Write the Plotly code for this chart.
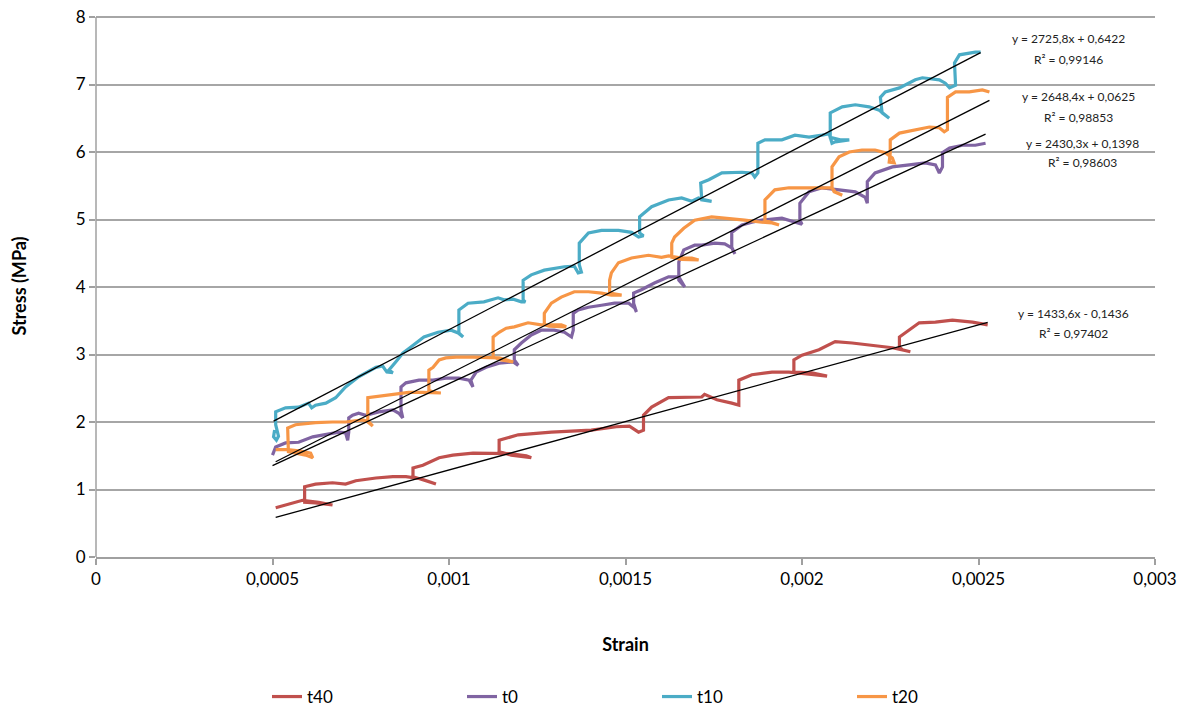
import plotly.graph_objects as go

# ---------------- data (strain in micro-strain, stress in MPa) ----------------
t40_strain_ue = [509, 537, 585, 631, 670, 622, 591, 591, 622, 670, 707, 736, 793, 841, 878, 920, 963, 935, 898, 898,
                 926, 972, 1011, 1068, 1125, 1176, 1219, 1233, 1176, 1142, 1142, 1196, 1290, 1403, 1474, 1511, 1537,
                 1551, 1551, 1574, 1622, 1668, 1716, 1724, 1759, 1801, 1821, 1821, 1858, 1915, 1963, 2020, 2071, 2028,
                 1977, 1977, 2000, 2048, 2094, 2142, 2199, 2256, 2307, 2284, 2276, 2276, 2332, 2378, 2426, 2483, 2526]
t40_stress = [0.73, 0.77, 0.84, 0.81, 0.77, 0.80, 0.81, 1.04, 1.08, 1.10, 1.08, 1.13, 1.17, 1.19, 1.19, 1.16, 1.08, 1.13,
              1.19, 1.32, 1.36, 1.47, 1.51, 1.54, 1.54, 1.53, 1.50, 1.47, 1.51, 1.56, 1.73, 1.81, 1.85, 1.88, 1.93, 1.94,
              1.85, 1.88, 2.10, 2.22, 2.36, 2.36, 2.37, 2.41, 2.33, 2.28, 2.25, 2.62, 2.70, 2.74, 2.74, 2.71, 2.68, 2.73,
              2.74, 2.92, 2.99, 3.07, 3.19, 3.17, 3.14, 3.10, 3.04, 3.07, 3.11, 3.26, 3.47, 3.48, 3.51, 3.48, 3.44]

t0_strain_ue = [500, 509, 537, 574, 614, 651, 688, 707, 713, 716, 716, 727, 744, 764, 801, 841, 858, 869, 864, 864,
                878, 915, 955, 991, 1028, 1057, 1068, 1062, 1077, 1105, 1142, 1182, 1196, 1185, 1185, 1205, 1233, 1261,
                1298, 1327, 1347, 1352, 1352, 1366, 1395, 1432, 1469, 1509, 1526, 1531, 1523, 1523, 1545, 1582, 1622,
                1651, 1659, 1668, 1651, 1651, 1665, 1696, 1716, 1753, 1781, 1801, 1810, 1801, 1801, 1830, 1858, 1886,
                1943, 1972, 2000, 1994, 1994, 2020, 2057, 2105, 2151, 2179, 2185, 2185, 2185, 2207, 2256, 2304, 2349,
                2378, 2389, 2398, 2398, 2418, 2455, 2491, 2520]
t0_stress = [1.51, 1.63, 1.69, 1.70, 1.78, 1.81, 1.85, 1.84, 1.73, 1.85, 2.06, 2.10, 2.13, 2.10, 2.15, 2.18, 2.13, 2.06,
             2.18, 2.52, 2.58, 2.62, 2.62, 2.65, 2.65, 2.62, 2.52, 2.62, 2.74, 2.81, 2.87, 2.89, 2.84, 2.92, 3.07, 3.17,
             3.29, 3.36, 3.36, 3.33, 3.26, 3.36, 3.61, 3.66, 3.70, 3.73, 3.76, 3.76, 3.69, 3.63, 3.76, 3.91, 3.96, 4.06,
             4.15, 4.15, 4.07, 4.00, 4.10, 4.37, 4.55, 4.62, 4.62, 4.65, 4.64, 4.58, 4.49, 4.59, 4.81, 4.92, 4.96, 4.99,
             5.02, 4.98, 4.93, 4.99, 5.24, 5.41, 5.47, 5.44, 5.41, 5.33, 5.24, 5.41, 5.56, 5.69, 5.78, 5.81, 5.84, 5.81,
             5.69, 5.78, 5.99, 6.06, 6.10, 6.10, 6.13]

t10_strain_ue = [506, 503, 511, 517, 509, 509, 537, 574, 602, 611, 622, 651, 679, 707, 744, 793, 812, 824, 841, 830,
                 849, 869, 892, 929, 969, 1006, 1026, 1040, 1028, 1028, 1054, 1099, 1139, 1156, 1182, 1205, 1216, 1210,
                 1210, 1233, 1270, 1327, 1355, 1366, 1375, 1369, 1369, 1395, 1432, 1480, 1517, 1537, 1551, 1540, 1540,
                 1574, 1622, 1659, 1688, 1707, 1724, 1744, 1716, 1713, 1736, 1773, 1830, 1858, 1866, 1875, 1875, 1895,
                 1943, 1980, 2020, 2057, 2077, 2085, 2094, 2134, 2108, 2080, 2080, 2114, 2151, 2190, 2219, 2247, 2227,
                 2222, 2236, 2276, 2321, 2341, 2389, 2406, 2418, 2435, 2432, 2446, 2491, 2506]
t10_stress = [1.88, 1.78, 1.73, 1.79, 1.96, 2.15, 2.21, 2.22, 2.28, 2.21, 2.25, 2.28, 2.36, 2.52, 2.67, 2.81, 2.83, 2.74,
              2.73, 2.77, 2.89, 3.02, 3.11, 3.26, 3.33, 3.36, 3.32, 3.26, 3.32, 3.66, 3.76, 3.78, 3.84, 3.81, 3.82, 3.78,
              3.78, 3.81, 4.10, 4.18, 4.25, 4.30, 4.31, 4.21, 4.22, 4.33, 4.65, 4.80, 4.84, 4.84, 4.81, 4.74, 4.76, 4.80,
              5.04, 5.19, 5.29, 5.32, 5.27, 5.32, 5.29, 5.27, 5.29, 5.54, 5.59, 5.69, 5.70, 5.69, 5.63, 5.69, 6.13, 6.18,
              6.18, 6.25, 6.22, 6.25, 6.27, 6.13, 6.15, 6.18, 6.18, 6.22, 6.58, 6.67, 6.70, 6.67, 6.62, 6.50, 6.58, 6.81,
              6.89, 6.95, 7.07, 7.10, 7.07, 7.02, 6.95, 6.99, 7.32, 7.44, 7.48, 7.48]

t20_strain_ue = [509, 543, 580, 608, 614, 594, 545, 543, 543, 565, 622, 670, 707, 756, 773, 784, 770, 770, 784, 821,
                 858, 886, 926, 963, 977, 955, 943, 943, 955, 972, 991, 1020, 1068, 1105, 1142, 1182, 1148, 1125, 1125,
                 1142, 1162, 1185, 1224, 1261, 1290, 1318, 1332, 1284, 1270, 1270, 1290, 1318, 1355, 1395, 1432, 1460,
                 1489, 1466, 1455, 1455, 1460, 1480, 1517, 1565, 1602, 1622, 1659, 1688, 1707, 1659, 1631, 1631, 1639,
                 1665, 1696, 1744, 1793, 1838, 1886, 1915, 1935, 1909, 1895, 1895, 1923, 1963, 2000, 2048, 2085, 2094,
                 2114, 2091, 2085, 2085, 2105, 2134, 2170, 2207, 2236, 2256, 2261, 2247, 2250, 2250, 2276, 2321, 2361,
                 2389, 2403, 2412, 2412, 2412, 2435, 2474, 2511, 2531]
t20_stress = [1.59, 1.59, 1.57, 1.54, 1.47, 1.51, 1.56, 1.73, 1.91, 1.96, 1.99, 2.00, 2.00, 2.03, 2.00, 1.94, 2.00, 2.36,
              2.37, 2.40, 2.43, 2.44, 2.44, 2.44, 2.43, 2.44, 2.47, 2.77, 2.81, 2.92, 2.95, 2.96, 2.96, 2.96, 2.95, 2.89,
              2.92, 2.96, 3.26, 3.33, 3.39, 3.41, 3.47, 3.44, 3.44, 3.44, 3.41, 3.42, 3.44, 3.61, 3.76, 3.85, 3.93, 3.93,
              3.91, 3.88, 3.88, 3.90, 3.91, 4.10, 4.21, 4.36, 4.43, 4.47, 4.44, 4.46, 4.43, 4.43, 4.40, 4.41, 4.44, 4.65,
              4.74, 4.87, 4.99, 5.04, 5.02, 4.99, 4.96, 4.95, 4.92, 4.96, 4.99, 5.29, 5.44, 5.47, 5.47, 5.48, 5.47, 5.41,
              5.36, 5.41, 5.47, 5.78, 5.93, 6.00, 6.03, 6.03, 5.99, 5.91, 5.84, 5.85, 5.99, 6.18, 6.28, 6.33, 6.37, 6.36,
              6.30, 6.33, 6.37, 6.81, 6.89, 6.89, 6.92, 6.89]

series_names = ["t40", "t0", "t10", "t20"]
series_colors = ["#C0504D", "#8064A2", "#4BACC6", "#F79646"]

# linear trendlines (Excel) : slope, intercept, R²
trend_slope = [1433.6, 2430.3, 2725.8, 2648.4]
trend_intercept = [-0.1436, 0.1398, 0.6422, 0.0625]
trend_r2 = ["0,97402", "0,98603", "0,99146", "0,98853"]
trend_eq = ["y = 1433,6x - 0,1436", "y = 2430,3x + 0,1398", "y = 2725,8x + 0,6422", "y = 2648,4x + 0,0625"]

x_ticks = [0, 0.0005, 0.001, 0.0015, 0.002, 0.0025, 0.003]
x_ticktext = ["0", "0,0005", "0,001", "0,0015", "0,002", "0,0025", "0,003"]
y_ticks = [0, 1, 2, 3, 4, 5, 6, 7, 8]

strains = [t40_strain_ue, t0_strain_ue, t10_strain_ue, t20_strain_ue]
stresses = [t40_stress, t0_stress, t10_stress, t20_stress]

# label positions (page pixel centres) for the equation boxes
label_px = [(1073, 313), (1082, 143), (1068, 39), (1078, 97)]

fig = go.Figure()

for name, col, sx, sy in zip(series_names, series_colors, strains, stresses):
    fig.add_trace(go.Scatter(
        x=[v * 1e-6 for v in sx], y=sy, mode="lines", name=name,
        line=dict(color=col, width=3.2), hoverinfo="skip"))

for i, sx in enumerate(strains):
    xs = [min(sx) * 1e-6, max(sx) * 1e-6]
    ys = [trend_slope[i] * v + trend_intercept[i] for v in xs]
    fig.add_trace(go.Scatter(x=xs, y=ys, mode="lines", showlegend=False,
                             line=dict(color="black", width=1.3), hoverinfo="skip"))

# body margin is removed (post_script); plot area sits at page x 96..1155, y 15..557
# (8 lies 2px below the top edge so plotly keeps its gridline)
Y_TOP = 8.03
W, H = 1195, 713
L, T = 96, 15
R = W - 1155
B = H - 557
pw, ph = W - L - R, H - T - B


def px_to_paper(px, py):
    return (px - L) / pw, (H - B - py) / ph


for i in range(4):
    px, py = label_px[i]
    ax, ay = px_to_paper(px, py)
    fig.add_annotation(x=ax, y=ay, xref="paper", yref="paper",
                       text=trend_eq[i], showarrow=False, xanchor="center", yanchor="middle",
                       font=dict(size=12, color="#222"))
    ax, ay = px_to_paper(px, py + 20)
    fig.add_annotation(x=ax, y=ay, xref="paper", yref="paper",
                       text="R² = " + trend_r2[i], showarrow=False, xanchor="center", yanchor="middle",
                       font=dict(size=12, color="#222"))

lx, ly = px_to_paper(267, 697)

fig.update_layout(
    width=W, height=H,
    margin=dict(l=L, r=R, t=T, b=B, autoexpand=False),
    plot_bgcolor="white", paper_bgcolor="white",
    font=dict(family="Lato, 'Open Sans', sans-serif", size=17, color="#000"),
    showlegend=True,
    legend=dict(orientation="h", x=lx, y=ly, xanchor="left", yanchor="middle",
                entrywidth=150, entrywidthmode="pixels", font=dict(size=17), bgcolor="rgba(0,0,0,0)"),
    xaxis=dict(range=[0, 0.003], tickvals=x_ticks, ticktext=x_ticktext, showgrid=False, zeroline=False,
               showline=True, linecolor="#A0A0A0", linewidth=1.5, ticks="outside", ticklen=6,
               tickcolor="#A0A0A0", tickwidth=1.5, automargin=False, ticklabeloverflow="allow",
               title=dict(text="<b>Strain</b>", font=dict(size=18), standoff=50)),
    yaxis=dict(range=[0, Y_TOP], tickvals=y_ticks, showgrid=True, gridcolor="#A6A6A6", gridwidth=1.5,
               zeroline=False, showline=False, ticks="outside",
               ticklen=6, tickcolor="#A0A0A0", tickwidth=1.5, automargin=False, ticklabeloverflow="allow",
               title=dict(text="<b>Stress (MPa)</b>", font=dict(size=18), standoff=44)),
    shapes=[dict(type="line", xref="paper", yref="y", x0=0, x1=0, y0=0, y1=8,
                 line=dict(color="#A0A0A0", width=1.5))],
)

fig.write_html("out.html", config={"displayModeBar": False},
               post_script="document.body.style.margin='0';")
